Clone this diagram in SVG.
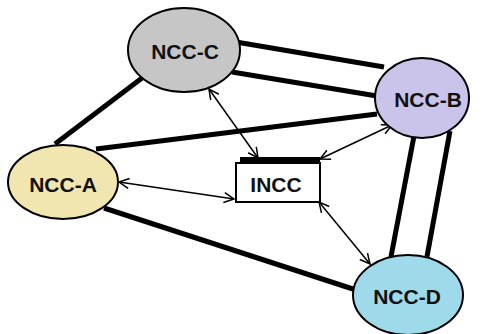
<svg xmlns="http://www.w3.org/2000/svg" width="481" height="334" viewBox="0 0 481 334">
<style>
.thick{stroke:#000;stroke-width:5;fill:none;stroke-linecap:butt}
.thin{stroke:#000;stroke-width:1.5;fill:none;marker-start:url(#ah);marker-end:url(#ah)}
.node{stroke:#000;stroke-width:2}
.lbl{font-family:"Liberation Sans",Arial,sans-serif;font-weight:bold;font-size:21px;text-anchor:middle;dominant-baseline:central;fill:#111}
</style>
<defs>
<marker id="ah" viewBox="0 0 12 12" refX="11" refY="6" markerWidth="12" markerHeight="12" markerUnits="userSpaceOnUse" orient="auto-start-reverse">
<path d="M1,1 L11,6 L1,11" fill="none" stroke="#000" stroke-width="1.5"/>
</marker>
</defs>
<rect width="481" height="334" fill="#fff"/>
<g id="connectors">
<line class="thick" x1="236" y1="42" x2="384" y2="67"/>
<line class="thick" x1="232" y1="72" x2="377" y2="96"/>
<line class="thick" x1="55" y1="144" x2="142" y2="78"/>
<line class="thick" x1="96" y1="149" x2="377" y2="114"/>
<line class="thick" x1="104" y1="208" x2="356" y2="290"/>
<line class="thick" x1="414" y1="136" x2="390" y2="262"/>
<line class="thick" x1="450" y1="131" x2="426" y2="262"/>
<line class="thin" x1="209" y1="89" x2="258" y2="158"/>
<line class="thin" x1="119" y1="182" x2="234" y2="199"/>
<line class="thin" x1="320" y1="159" x2="392" y2="125"/>
<line class="thin" x1="319" y1="202" x2="370" y2="264"/>
</g>
<g id="ncc-c">
<ellipse class="node" cx="184" cy="50" rx="56" ry="42" fill="#c6c6c6"/>
<text class="lbl" x="185" y="51">NCC-C</text>
</g>
<g id="ncc-b">
<ellipse class="node" cx="422" cy="98" rx="47" ry="40" fill="#cac3ea"/>
<text class="lbl" x="428" y="99">NCC-B</text>
</g>
<g id="ncc-a">
<ellipse class="node" cx="63" cy="182" rx="55" ry="37" fill="#f2e6b0"/>
<text class="lbl" x="63" y="184">NCC-A</text>
</g>
<g id="ncc-d">
<ellipse class="node" cx="408" cy="295" rx="55" ry="40" fill="#9fdaeb"/>
<text class="lbl" x="407" y="296">NCC-D</text>
</g>
<g id="incc">
<rect x="240" y="157" width="80" height="6" fill="#000"/>
<rect class="node" x="236" y="163" width="84" height="39" fill="#fff"/>
<text class="lbl" x="276" y="184">INCC</text>
</g>
</svg>
